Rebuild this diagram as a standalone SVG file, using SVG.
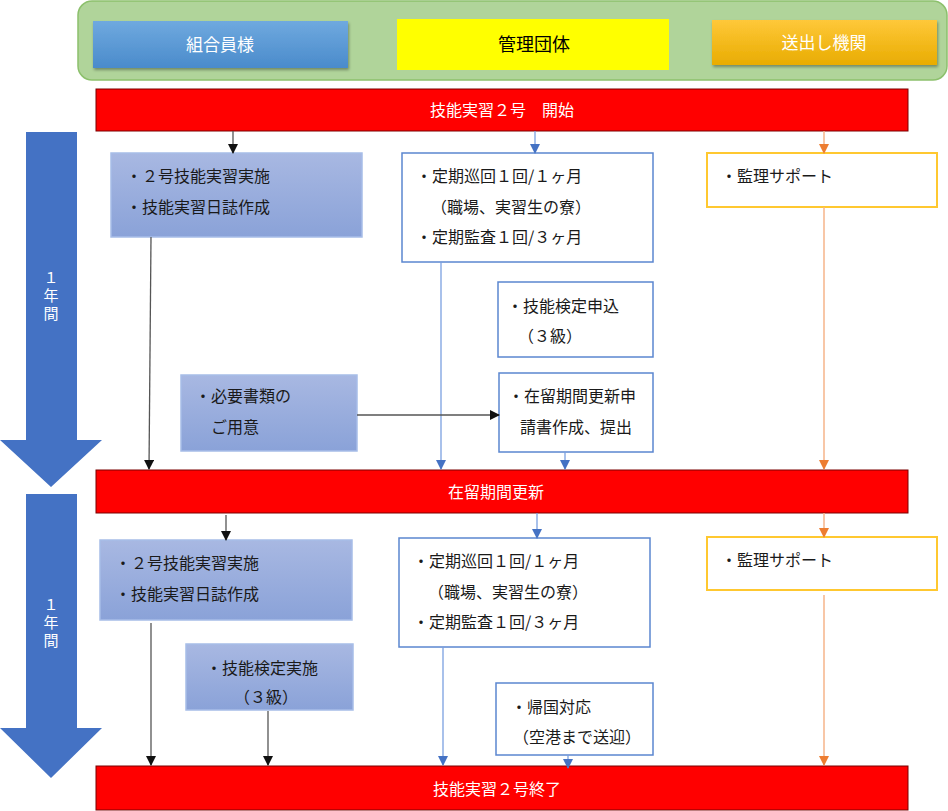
<svg xmlns="http://www.w3.org/2000/svg" width="948" height="811" viewBox="0 0 948 811">
<defs>
<style>
text{font-family:"Noto Sans CJK JP","Noto Sans",sans-serif;font-size:16px;}
.t{fill:#1a1a1a;}
.w{fill:#ffffff;}
.v{writing-mode:vertical-rl;text-orientation:upright;letter-spacing:3px;font-size:15px;}
.bar{fill:#ff0000;stroke:#7a0000;stroke-width:1;}
.lb{fill:url(#lbg);stroke:#a7bde8;stroke-width:1.5;}
.mb{fill:#ffffff;stroke:#5b86d0;stroke-width:1.5;}
.rb{fill:#ffffff;stroke:#ffc830;stroke-width:2;}
.ck{stroke:#555;stroke-width:1.3;fill:none;}
.cb{stroke:#7aa0e0;stroke-width:1.3;fill:none;}
.co{stroke:#f6b48a;stroke-width:1.5;fill:none;}
.big{fill:#4472c4;}
</style>
<linearGradient id="lbg" x1="0" y1="0" x2="0" y2="1"><stop offset="0" stop-color="#a8b8e2"/><stop offset="1" stop-color="#8aa2d8"/></linearGradient>
<linearGradient id="bg1" x1="0" y1="0" x2="0" y2="1"><stop offset="0" stop-color="#6fa9df"/><stop offset="1" stop-color="#4a8bcb"/></linearGradient>
<linearGradient id="og1" x1="0" y1="0" x2="0" y2="1"><stop offset="0" stop-color="#ffc83a"/><stop offset="1" stop-color="#e8ac00"/></linearGradient>
<filter id="sh" x="-10%" y="-20%" width="120%" height="150%"><feDropShadow dx="1" dy="2" stdDeviation="1.5" flood-color="#000" flood-opacity="0.35"/></filter>
<marker id="ak" markerWidth="10" markerHeight="10" refX="9" refY="5" orient="auto" markerUnits="userSpaceOnUse"><path d="M0,0 L10,5 L0,10 Z" fill="#111"/></marker>
<marker id="ab" markerWidth="10" markerHeight="10" refX="9" refY="5" orient="auto" markerUnits="userSpaceOnUse"><path d="M0,0 L10,5 L0,10 Z" fill="#4472c4"/></marker>
<marker id="ao" markerWidth="10" markerHeight="10" refX="9" refY="5" orient="auto" markerUnits="userSpaceOnUse"><path d="M0,0 L10,5 L0,10 Z" fill="#ed7d31"/></marker>
</defs>

<g id="header">
<rect x="78" y="1" width="869" height="79" rx="14" fill="#b0d49a" stroke="#8cc06c" stroke-width="1.5"/>
</g>
<g id="kumiai">
<rect x="93" y="21" width="255" height="47" fill="url(#bg1)" filter="url(#sh)"/>
<text class="w" x="220" y="51" text-anchor="middle" style="font-size:17px">組合員様</text>
</g>
<g id="kanri">
<rect x="397" y="19" width="272" height="51" fill="#ffff00"/>
<text x="534" y="51" text-anchor="middle" fill="#000" style="font-size:18px">管理団体</text>
</g>
<g id="okuridashi">
<rect x="712" y="20" width="225" height="45" fill="url(#og1)" filter="url(#sh)"/>
<text class="w" x="824" y="49" text-anchor="middle" style="font-size:17px">送出し機関</text>
</g>

<g id="bigarrow1">
<path class="big" d="M26,132 H77 V440 H102 L51,487 L0,440 H26 Z"/>
<text class="w v" x="51" y="270">１年間</text>
</g>
<g id="bigarrow2">
<path class="big" d="M26,494 H77 V728 H102 L51,778 L0,728 H26 Z"/>
<text class="w v" x="51" y="597">１年間</text>
</g>

<g id="bar-start">
<rect class="bar" x="96" y="89" width="812" height="42"/>
<text class="w" x="502" y="116" text-anchor="middle">技能実習２号　開始</text>
</g>
<g id="bar-renew">
<rect class="bar" x="96" y="470" width="812" height="43"/>
<text class="w" x="496" y="498" text-anchor="middle">在留期間更新</text>
</g>
<g id="bar-end">
<rect class="bar" x="96" y="766" width="812" height="44"/>
<text class="w" x="497" y="795" text-anchor="middle">技能実習２号終了</text>
</g>

<g id="left1">
<rect class="lb" x="111" y="153" width="251" height="84"/>
<text class="t" x="126" y="182">・２号技能実習実施</text>
<text class="t" x="126" y="213">・技能実習日誌作成</text>
</g>
<g id="mid1">
<rect class="mb" x="402" y="153" width="251" height="109"/>
<text class="t" x="416" y="182">・定期巡回１回/１ヶ月</text>
<text class="t" x="431" y="213">（職場、実習生の寮）</text>
<text class="t" x="416" y="243">・定期監査１回/３ヶ月</text>
</g>
<g id="right1">
<rect class="rb" x="707" y="153" width="230" height="54"/>
<text class="t" x="721" y="182">・監理サポート</text>
</g>
<g id="kentei-moushikomi">
<rect class="mb" x="498" y="282" width="155" height="75"/>
<text class="t" x="507" y="312">・技能検定申込</text>
<text class="t" x="518" y="342">（３級）</text>
</g>
<g id="shorui">
<rect class="lb" x="181" y="375" width="176" height="76"/>
<text class="t" x="195" y="402">・必要書類の</text>
<text class="t" x="211" y="433">ご用意</text>
</g>
<g id="zairyu-shinsei">
<rect class="mb" x="499" y="373" width="154" height="79"/>
<text class="t" x="508" y="402">・在留期間更新申</text>
<text class="t" x="520" y="433">請書作成、提出</text>
</g>

<g id="left2">
<rect class="lb" x="100" y="540" width="252" height="80"/>
<text class="t" x="115" y="569">・２号技能実習実施</text>
<text class="t" x="115" y="600">・技能実習日誌作成</text>
</g>
<g id="kentei-jisshi">
<rect class="lb" x="186" y="644" width="167" height="66"/>
<text class="t" x="206" y="674">・技能検定実施</text>
<text class="t" x="234" y="703">（３級）</text>
</g>
<g id="mid2">
<rect class="mb" x="399" y="538" width="251" height="109"/>
<text class="t" x="413" y="567">・定期巡回１回/１ヶ月</text>
<text class="t" x="428" y="598">（職場、実習生の寮）</text>
<text class="t" x="413" y="628">・定期監査１回/３ヶ月</text>
</g>
<g id="kikoku">
<rect class="mb" x="496" y="683" width="157" height="72"/>
<text class="t" x="511" y="713">・帰国対応</text>
<text class="t" x="513" y="743">（空港まで送迎）</text>
</g>
<g id="right2">
<rect class="rb" x="707" y="537" width="230" height="53"/>
<text class="t" x="721" y="566">・監理サポート</text>
</g>

<g id="connectors">
<path class="ck" d="M233,131 V153" marker-end="url(#ak)"/>
<path class="cb" d="M535,131 V153" marker-end="url(#ab)"/>
<path class="co" d="M824,131 V153" marker-end="url(#ao)"/>
<path class="ck" d="M151,237 L149,469" marker-end="url(#ak)"/>
<path class="cb" d="M441,262 V469" marker-end="url(#ab)"/>
<path class="ck" d="M357,415 H499" marker-end="url(#ak)"/>
<path class="cb" d="M565,452 V469" marker-end="url(#ab)"/>
<path class="co" d="M824,207 V469" marker-end="url(#ao)"/>

<path class="ck" d="M226,515 V540" marker-end="url(#ak)"/>
<path class="cb" d="M537,513 V538" marker-end="url(#ab)"/>
<path class="co" d="M824,513 V537" marker-end="url(#ao)"/>
<path class="ck" d="M151,623 V765" marker-end="url(#ak)"/>
<path class="ck" d="M268,711 V765" marker-end="url(#ak)"/>
<path class="cb" d="M443,647 V765" marker-end="url(#ab)"/>
<path class="cb" d="M568,755 V768" marker-end="url(#ab)"/>
<path class="co" d="M824,595 V765" marker-end="url(#ao)"/>
</g>
</svg>
